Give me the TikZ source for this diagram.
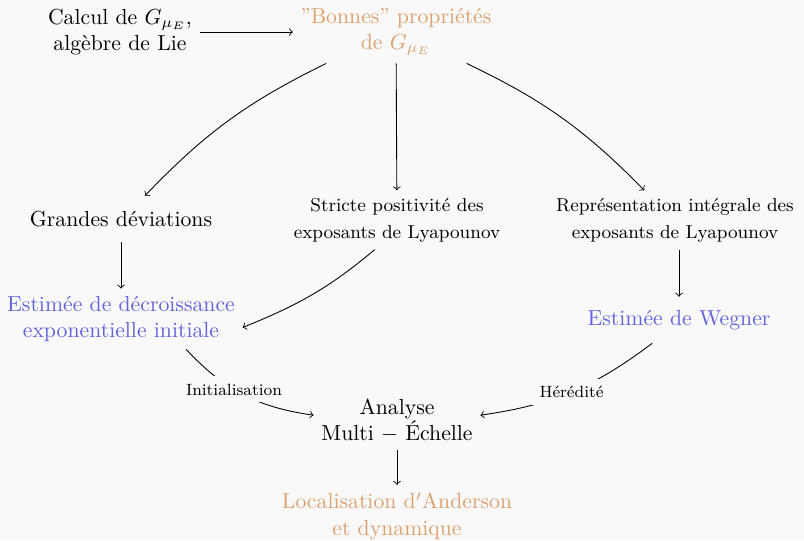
\documentclass[tikz,border=0pt]{standalone}
\definecolor{bg}{RGB}{249,249,249}
\definecolor{myorange}{RGB}{222,160,108}
\definecolor{myblue}{RGB}{98,98,220}
\begin{document}
\begin{tikzpicture}[x=0.46pt,y=-0.46pt,
  box/.style={align=center},
  smallbox/.style={align=center,font=\fontsize{8.6}{12.4}\selectfont},
  onebox/.style={align=center,minimum height=21pt},
  lab/.style={font=\fontsize{7.5}{9}\selectfont,fill=bg},
  arr/.style={->}]
\fill[bg] (0,0) rectangle (804,540);
\useasboundingbox (0,0) rectangle (804,540);
\node[box] (calcul) at (120,32) {Calcul de $G_{\mu_E}$,\\ algèbre de Lie};
\node[box,text=myorange] (bonnes) at (396,32) {”Bonnes” propriétés\\ de $G_{\mu_E}$};
\node[onebox] (grandes) at (121,219) {Grandes déviations};
\node[smallbox] (stricte) at (397,220) {Stricte positivité des\\ exposants de Lyapounov};
\node[smallbox] (repr) at (675,220) {Représentation intégrale des\\ exposants de Lyapounov};
\node[box,text=myblue] (decr) at (121,319) {Estimée de décroissance\\ exponentielle initiale};
\node[onebox,text=myblue] (wegner) at (679,320) {Estimée de Wegner};
\node[box] (analyse) at (397,421) {Analyse\\ Multi $-$ Échelle};
\node[box,text=myorange] (local) at (397,516) {Localisation d$'$Anderson\\ et dynamique};

\draw[arr] (calcul) -- (bonnes);
\draw[arr] (bonnes) to[bend right=10] (grandes);
\draw[arr] (bonnes) -- (stricte);
\draw[arr] (bonnes) to[bend left=10] (repr);
\draw[arr] (grandes) -- (decr);
\draw[arr] (stricte.233) to[out=220,in=22] (decr.-4);
\draw[arr] (repr.south -| wegner.north) -- (wegner);
\draw[arr] (decr.-25) to[out=-47,in=172] node[lab,pos=0.42] {Initialisation} (analyse.176);
\draw[arr] (wegner.221) to[out=217,in=8] node[lab] {Hérédité} (analyse.4);
\draw[arr] (analyse) -- (local);
\end{tikzpicture}
\end{document}
